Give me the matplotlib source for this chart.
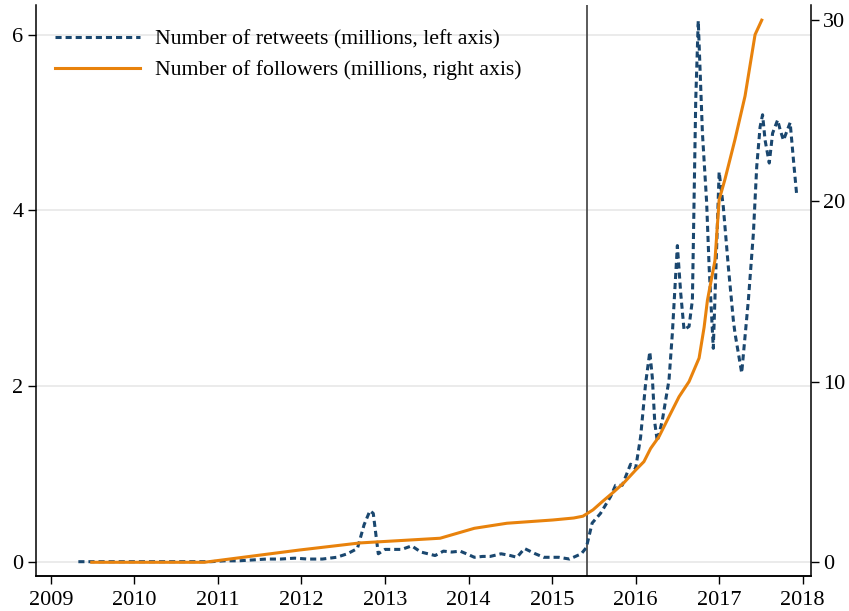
import matplotlib
matplotlib.use("Agg")
import matplotlib.pyplot as plt
from matplotlib.lines import Line2D

# Monthly-ish series (decimal years)
retweet_years = [2009.33, 2009.5, 2009.75, 2010.0, 2010.25, 2010.5, 2010.75, 2010.92,
                 2011.08, 2011.25, 2011.42, 2011.58, 2011.75, 2011.92, 2012.08, 2012.25,
                 2012.42, 2012.55, 2012.67, 2012.75, 2012.82, 2012.86, 2012.92, 2013.0,
                 2013.1, 2013.2, 2013.32, 2013.43, 2013.6, 2013.7, 2013.8, 2013.9,
                 2014.0, 2014.07, 2014.17, 2014.26, 2014.39, 2014.5, 2014.58, 2014.67,
                 2014.8, 2014.9, 2015.0, 2015.08, 2015.21, 2015.35, 2015.41, 2015.48,
                 2015.58, 2015.7, 2015.76, 2015.84, 2015.94, 2016.0, 2016.06, 2016.12,
                 2016.17, 2016.2, 2016.23, 2016.26, 2016.32, 2016.4, 2016.44, 2016.5,
                 2016.54, 2016.58, 2016.64, 2016.68, 2016.72, 2016.75, 2016.8, 2016.85,
                 2016.88, 2016.93, 2017.0, 2017.05, 2017.11, 2017.17, 2017.19, 2017.27,
                 2017.35, 2017.41, 2017.45, 2017.49, 2017.52, 2017.55, 2017.6, 2017.64,
                 2017.7, 2017.73, 2017.77, 2017.81, 2017.85, 2017.89, 2017.93]
retweets_millions = [0.0, 0.0, 0.0, 0.0, 0.0, 0.0, 0.0, 0.0,
                     0.01, 0.01, 0.02, 0.03, 0.03, 0.04, 0.03, 0.03,
                     0.05, 0.09, 0.15, 0.42, 0.58, 0.55, 0.09, 0.14,
                     0.14, 0.14, 0.18, 0.11, 0.07, 0.12, 0.11, 0.12,
                     0.08, 0.05, 0.06, 0.06, 0.09, 0.07, 0.05, 0.15,
                     0.09, 0.05, 0.05, 0.05, 0.03, 0.09, 0.16, 0.44,
                     0.55, 0.74, 0.87, 0.87, 1.11, 1.06, 1.42, 2.03,
                     2.39, 2.10, 1.58, 1.37, 1.61, 2.07, 2.60, 3.60,
                     3.06, 2.64, 2.68, 2.98, 5.26, 6.16, 4.88, 4.10,
                     3.36, 2.43, 4.44, 4.04, 3.36, 2.75, 2.60, 2.15,
                     2.98, 3.74, 4.50, 4.95, 5.09, 4.80, 4.54, 4.88,
                     5.03, 4.92, 4.80, 4.90, 5.00, 4.57, 4.16]

follower_years = [2009.49, 2010.84, 2011.98, 2012.7, 2013.66, 2014.07, 2014.46, 2015.01,
                  2015.26, 2015.37, 2015.49, 2015.6, 2015.74, 2015.86, 2016.0, 2016.1,
                  2016.18, 2016.28, 2016.4, 2016.52, 2016.64, 2016.76, 2016.82, 2016.86,
                  2016.95, 2017.0, 2017.07, 2017.19, 2017.31, 2017.43, 2017.51]
followers_millions = [0.0, 0.0, 0.68, 1.07, 1.33, 1.88, 2.16, 2.34,
                      2.45, 2.55, 2.90, 3.35, 3.90, 4.40, 5.10, 5.57,
                      6.30, 6.95, 8.06, 9.16, 10.0, 11.3, 13.0, 14.5,
                      16.7, 20.05, 21.2, 23.4, 25.8, 29.2, 30.0]

event_year = 2015.415
year_ticks = list(range(2009, 2019))
left_ticks = [0, 2, 4, 6]
right_ticks = [0, 10, 20, 30]

label_retweets = "Number of retweets (millions, left axis)"
label_followers = "Number of followers (millions, right axis)"

navy = "#1a476f"
orange = "#e8820c"

plt.rcParams["font.family"] = ["Liberation Serif", "DejaVu Serif"]

fig = plt.figure(figsize=(8.49, 6.11), dpi=100)
ax = fig.add_axes([36 / 849, 1 - 576 / 611, (810.7 - 36) / 849, (576 - 5) / 611])
ax2 = ax.twinx()

ax.set_xlim(2008.823, 2018.096)
ax.set_ylim(-0.163, 6.34)
ax2.set_ylim(-0.76, 30.84)

for t in left_ticks:
    ax.axhline(t, color="#e6e6e6", lw=1.1, zorder=0)
ax.axvline(event_year, color="#4d4d4d", lw=1.3, zorder=1)

ax.plot(retweet_years, retweets_millions, color=navy, lw=2.2,
        dashes=(2.0, 1.3), solid_capstyle="butt", zorder=2)
ax2.plot(follower_years, followers_millions, color=orange, lw=2.2, zorder=3)

ax.set_xticks(year_ticks)
ax.set_yticks(left_ticks)
ax2.set_yticks(right_ticks)
ax.set_xticklabels([str(y) for y in year_ticks])
ax.set_yticklabels([str(v) for v in left_ticks])
ax2.set_yticklabels([str(v) for v in right_ticks])

for a in (ax, ax2):
    a.spines["top"].set_visible(False)
    for s in a.spines.values():
        s.set_linewidth(1.1)
        s.set_color("black")
    a.tick_params(direction="out", length=6, width=1.0, labelsize=16, pad=3,
                  colors="black")
ax.tick_params(axis="x", pad=5)
ax.spines["right"].set_visible(False)
ax2.spines["left"].set_visible(False)

handles = [Line2D([], [], color=navy, lw=2.2, dashes=(2.0, 1.3)),
           Line2D([], [], color=orange, lw=2.2)]
fig.legend(handles, [label_retweets, label_followers], loc="upper left",
           bbox_to_anchor=(55 / 849, 1 - 29 / 611), frameon=False, fontsize=15.7,
           handlelength=3.9, handletextpad=0.7, labelspacing=0.5,
           borderpad=0, borderaxespad=0)

fig.savefig("out.png", dpi=100)
